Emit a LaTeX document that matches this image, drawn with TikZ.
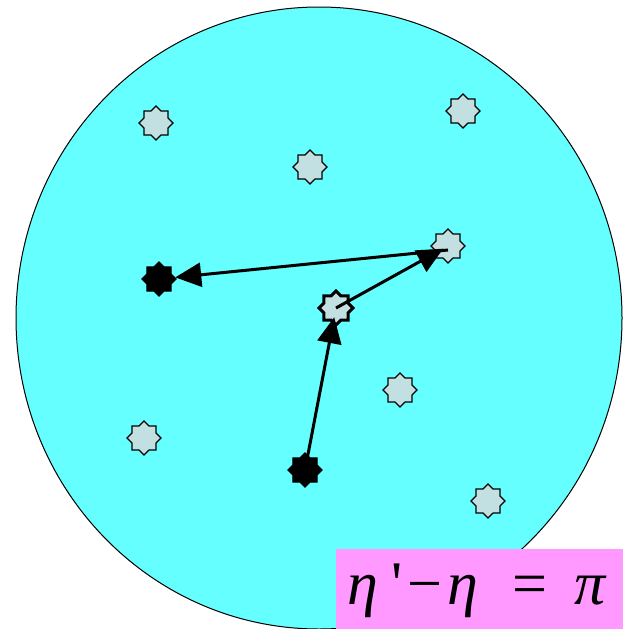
\documentclass[tikz,border=0pt]{standalone}
\usepackage{fontspec}
\setmainfont{Liberation Serif}
\usetikzlibrary{shapes.geometric,arrows.meta}
\definecolor{cyanfill}{HTML}{66FFFF}
\definecolor{starfill}{HTML}{C2E0E2}
\definecolor{boxfill}{HTML}{FF99FF}
\tikzset{
  starnode/.style={star,star points=8,star point ratio=1.3,minimum size=34pt,inner sep=0pt,draw=black,line width=1.2pt,fill=starfill},
  blackstar/.style={starnode,fill=black},
  hlstar/.style={starnode,line width=3pt},
  arr/.style={line width=3pt,-{Triangle[length=26pt,width=24pt]}},
}
\begin{document}
\begin{tikzpicture}[x=1pt,y=-1pt]
\useasboundingbox (0,0) rectangle (623,629);
\fill[white] (0,0) rectangle (623,629);
\draw[fill=cyanfill,line width=1pt] (319,318) ellipse [x radius=303,y radius=311];
\node[starnode] (s1) at (156,123) {};
\node[starnode] (s2) at (310,167) {};
\node[starnode] (s3) at (463,111) {};
\node[starnode] (s4) at (448,246) {};
\node[hlstar] (s5) at (336,308) {};
\node[blackstar] (s6) at (159,279) {};
\node[starnode] (s7) at (400,390) {};
\node[starnode] (s8) at (144,438) {};
\node[blackstar] (s9) at (305,470) {};
\node[starnode] (s10) at (488,501) {};
\draw[arr,shorten >=-7pt] (s9.center) -- (s5);
\draw[arr,shorten >=-9pt] (s5.center) -- (s4);
\draw[arr] ([yshift=-4pt]s4.center) -- (s6);
\node[fill=boxfill,minimum width=287pt,minimum height=80pt,anchor=north west,inner sep=0pt] (box) at (336,549) {};
\node[anchor=center,inner sep=0pt,font=\fontsize{62}{70}\selectfont] (eq) at ([xshift=-2pt,yshift=-2pt]box.center)
  {\textit{η}\hspace{0.2em}\textquotesingle\hspace{0.08em}−\hspace{0.08em}\textit{η}\hspace{0.55em}=\hspace{0.45em}\textit{π}};
\end{tikzpicture}
\end{document}
